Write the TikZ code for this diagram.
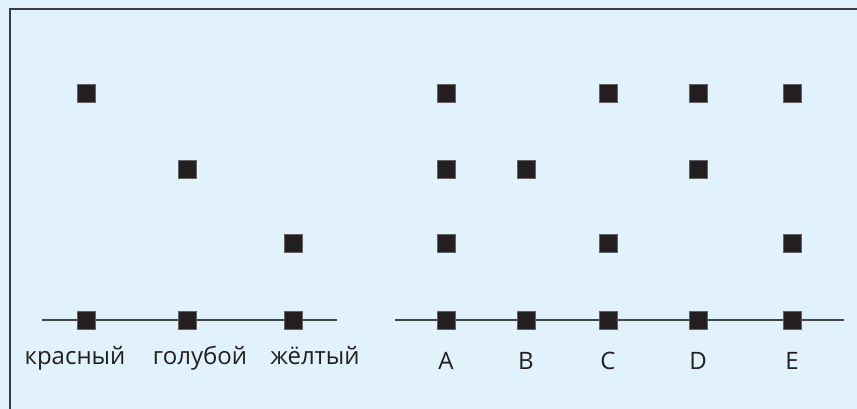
\documentclass[tikz,border=0pt]{standalone}
\usepackage{fontspec}
\setmainfont{Open Sans}
\definecolor{paper}{HTML}{E1F2FC}
\definecolor{ink}{HTML}{231F20}
\definecolor{rule}{HTML}{404548}
\tikzset{
  dot/.style = {draw = ink!70, fill = ink, line width = 0.4pt, minimum size = 18pt, inner sep = 0pt},
  axis/.style = {rule, line width = 1.8pt},
  lab/.style = {anchor = base, text = ink, font = \fontsize{24}{28}\selectfont, inner sep = 0pt}
}
\begin{document}
\begin{tikzpicture} [x = 1pt, y = -1pt]
    \useasboundingbox (0,0) rectangle (857,409);
    \fill [paper] (0,0) rectangle (857,409);
    \draw [line width = 2pt, rule!90!black] (9.5,409)--(9.5,9.5)--(857,9.5);
    % axes
    \coordinate (l0) at (42,320);
    \coordinate (l1) at (337,320);
    \coordinate (r0) at (395,320);
    \coordinate (r1) at (844,320);
    \draw [axis] (l0)--(l1);
    \draw [axis] (r0)--(r1);
    % colours
    \node [dot] (red0) at (86,320) {};
    \node [dot] (red1) at (86,93) {};
    \node [dot] (blue0) at (187,320) {};
    \node [dot] (blue1) at (187,169) {};
    \node [dot] (yel0) at (293,320) {};
    \node [dot] (yel1) at (293,243) {};
    \node [lab] (red) at (75,364) {красный};
    \node [lab] (blue) at (200,364) {голубой};
    \node [lab] (yel) at (315,364) {жёлтый};
    % letters
    \node [dot] (a0) at (446,320) {};
    \node [dot] (a1) at (446,243) {};
    \node [dot] (a2) at (446,169) {};
    \node [dot] (a3) at (446,93) {};
    \node [dot] (b0) at (526,320) {};
    \node [dot] (b2) at (526,169) {};
    \node [dot] (c0) at (608,320) {};
    \node [dot] (c1) at (608,243) {};
    \node [dot] (c3) at (608,93) {};
    \node [dot] (d0) at (698,320) {};
    \node [dot] (d2) at (698,169) {};
    \node [dot] (d3) at (698,93) {};
    \node [dot] (e0) at (792,320) {};
    \node [dot] (e1) at (792,243) {};
    \node [dot] (e3) at (792,93) {};
    \node [lab] (A) at (446,369) {A};
    \node [lab] (B) at (526,369) {B};
    \node [lab] (C) at (608,369) {C};
    \node [lab] (D) at (698,369) {D};
    \node [lab] (E) at (792,369) {E};
  \end{tikzpicture}
\end{document}
